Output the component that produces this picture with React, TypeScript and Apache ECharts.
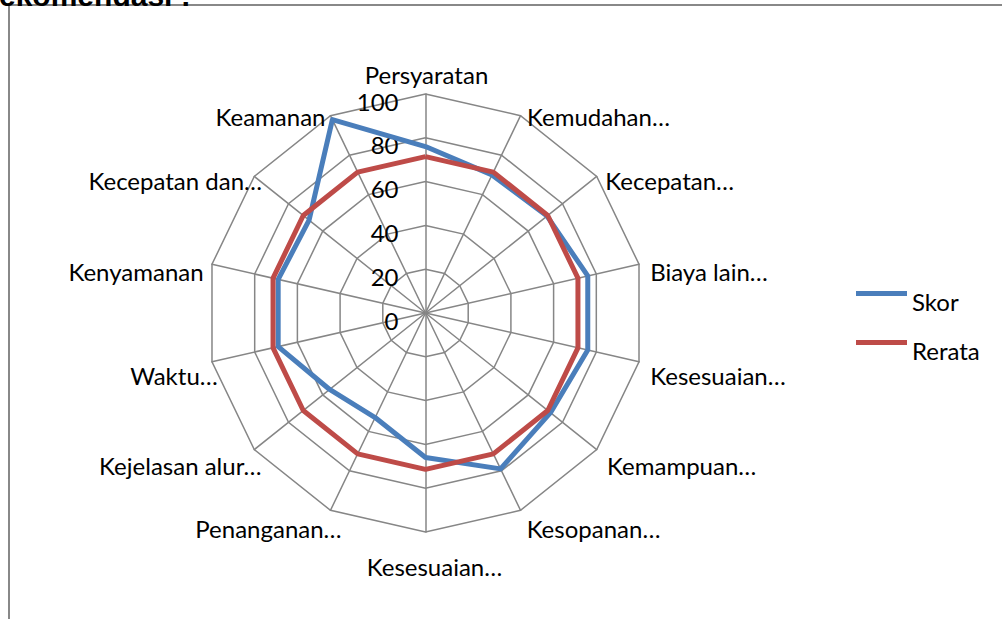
import React, { useEffect, useRef } from "react";
import * as echarts from "echarts";

// clockwise order starting from the top
const indicators = [
  "Persyaratan",
  "Kemudahan…",
  "Kecepatan…",
  "Biaya lain…",
  "Kesesuaian…",
  "Kemampuan…",
  "Kesopanan…",
  "Kesesuaian…",
  "Penanganan…",
  "Kejelasan alur…",
  "Waktu…",
  "Kenyamanan",
  "Kecepatan dan…",
  "Keamanan",
];
const skor = [76, 70, 71, 76, 76, 73, 79, 66, 53, 56, 69, 69, 68, 98];
const rerata = [71.4, 71.4, 71.4, 71.4, 71.4, 71.4, 71.4, 71.4, 71.4, 71.4, 71.4, 71.4, 71.4, 71.4];
const seriesNames = ["Skor", "Rerata"];
const titleText = "ekomendasi :";

const FONT = "Lato";
const FS = 24;

// label-centre offsets (px) from each axis end, to mimic the spreadsheet's label placement
const nameOffsets: [number, number][] = [
  [1, -20], [78, 1], [73, 4], [70, 7], [79, 14], [85, 16], [73, 18],
  [9, 34], [-62, 18], [-74, 16], [-38, 14], [-76, 7], [-79, 4], [-60, 1],
];

// ECharts draws radar axes counter-clockwise; reorder to get clockwise layout
const order = indicators.map((_, i) => (i === 0 ? 0 : indicators.length - i));
const cw = <T,>(arr: T[]) => order.map((i) => arr[i]);

export default function App() {
  const ref = useRef<HTMLDivElement>(null);
  useEffect(() => {
    if (!ref.current) return;
    const chart = echarts.init(ref.current, null, { renderer: "svg" });
    const offs = cw(nameOffsets);
    chart.setOption({
      animation: false,
      backgroundColor: "#ffffff",
      legend: {
        orient: "vertical",
        left: 851,
        top: 284,
        itemWidth: 51,
        itemHeight: 20,
        itemGap: 25,
        itemTextGap: 5,
        icon: "path://M0,0h51v5h-51z M0,19.99h0.01v0.01h-0.01z",
        data: seriesNames,
        textStyle: { fontFamily: FONT, fontSize: FS, color: "#000" },
      },
      radar: {
        center: [425.5, 313],
        radius: 219,
        startAngle: 90,
        splitNumber: 5,
        shape: "polygon",
        nameGap: 0,
        axisName: {
          color: "#000",
          fontFamily: FONT,
          fontSize: FS,
          align: "center",
          verticalAlign: "middle",
        },
        splitArea: { show: false },
        splitLine: { lineStyle: { color: "#868686", width: 1.5 } },
        axisLine: { lineStyle: { color: "#868686", width: 1.5 } },
        axisTick: { show: false },
        axisLabel: { show: false },
        indicator: cw(indicators).map((n, i) => {
          const [dx, dy] = offs[i];
          return {
            name: `{p|${n}}`,
            min: 0,
            max: 100,
            nameTextStyle: {
              rich: {
                p: {
                  fontFamily: FONT,
                  fontSize: FS,
                  color: "#000",
                  padding: [Math.max(0, 2 * dy), Math.max(0, -2 * dx), Math.max(0, -2 * dy), Math.max(0, 2 * dx)],
                },
              },
            },
            ...(i === 0
              ? {
                  axisLabel: {
                    show: true,
                    color: "#000",
                    fontFamily: FONT,
                    fontSize: FS,
                    margin: 27,
                    formatter: "{v|{value}}",
                    rich: { v: { fontFamily: FONT, fontSize: FS, color: "#000", padding: [14, 0, 0, 0] } },
                  },
                }
              : {}),
          };
        }),
      },
      series: [
        {
          type: "radar",
          symbol: "none",
          data: [
            { name: seriesNames[0], value: cw(skor), lineStyle: { color: "#4A7EBB", width: 5 }, itemStyle: { color: "#4A7EBB" } },
            { name: seriesNames[1], value: cw(rerata), lineStyle: { color: "#BE4B48", width: 5 }, itemStyle: { color: "#BE4B48" } },
          ],
        },
      ],
      graphic: [
        { type: "line", shape: { x1: 9, y1: 5, x2: 1002, y2: 5 }, style: { stroke: "#888888", lineWidth: 2 } },
        { type: "line", shape: { x1: 9, y1: 5, x2: 9, y2: 619 }, style: { stroke: "#888888", lineWidth: 2 } },
        {
          type: "text",
          x: -1,
          y: 10,
          style: {
            text: titleText,
            font: "bold 30px 'Liberation Sans'",
            fill: "#000",
            verticalAlign: "bottom",
          },
        },
      ],
    });
    return () => chart.dispose();
  }, []);
  return <div ref={ref} style={{ position: "absolute", left: 0, top: 0, width: 1002, height: 619 }} />;
}
